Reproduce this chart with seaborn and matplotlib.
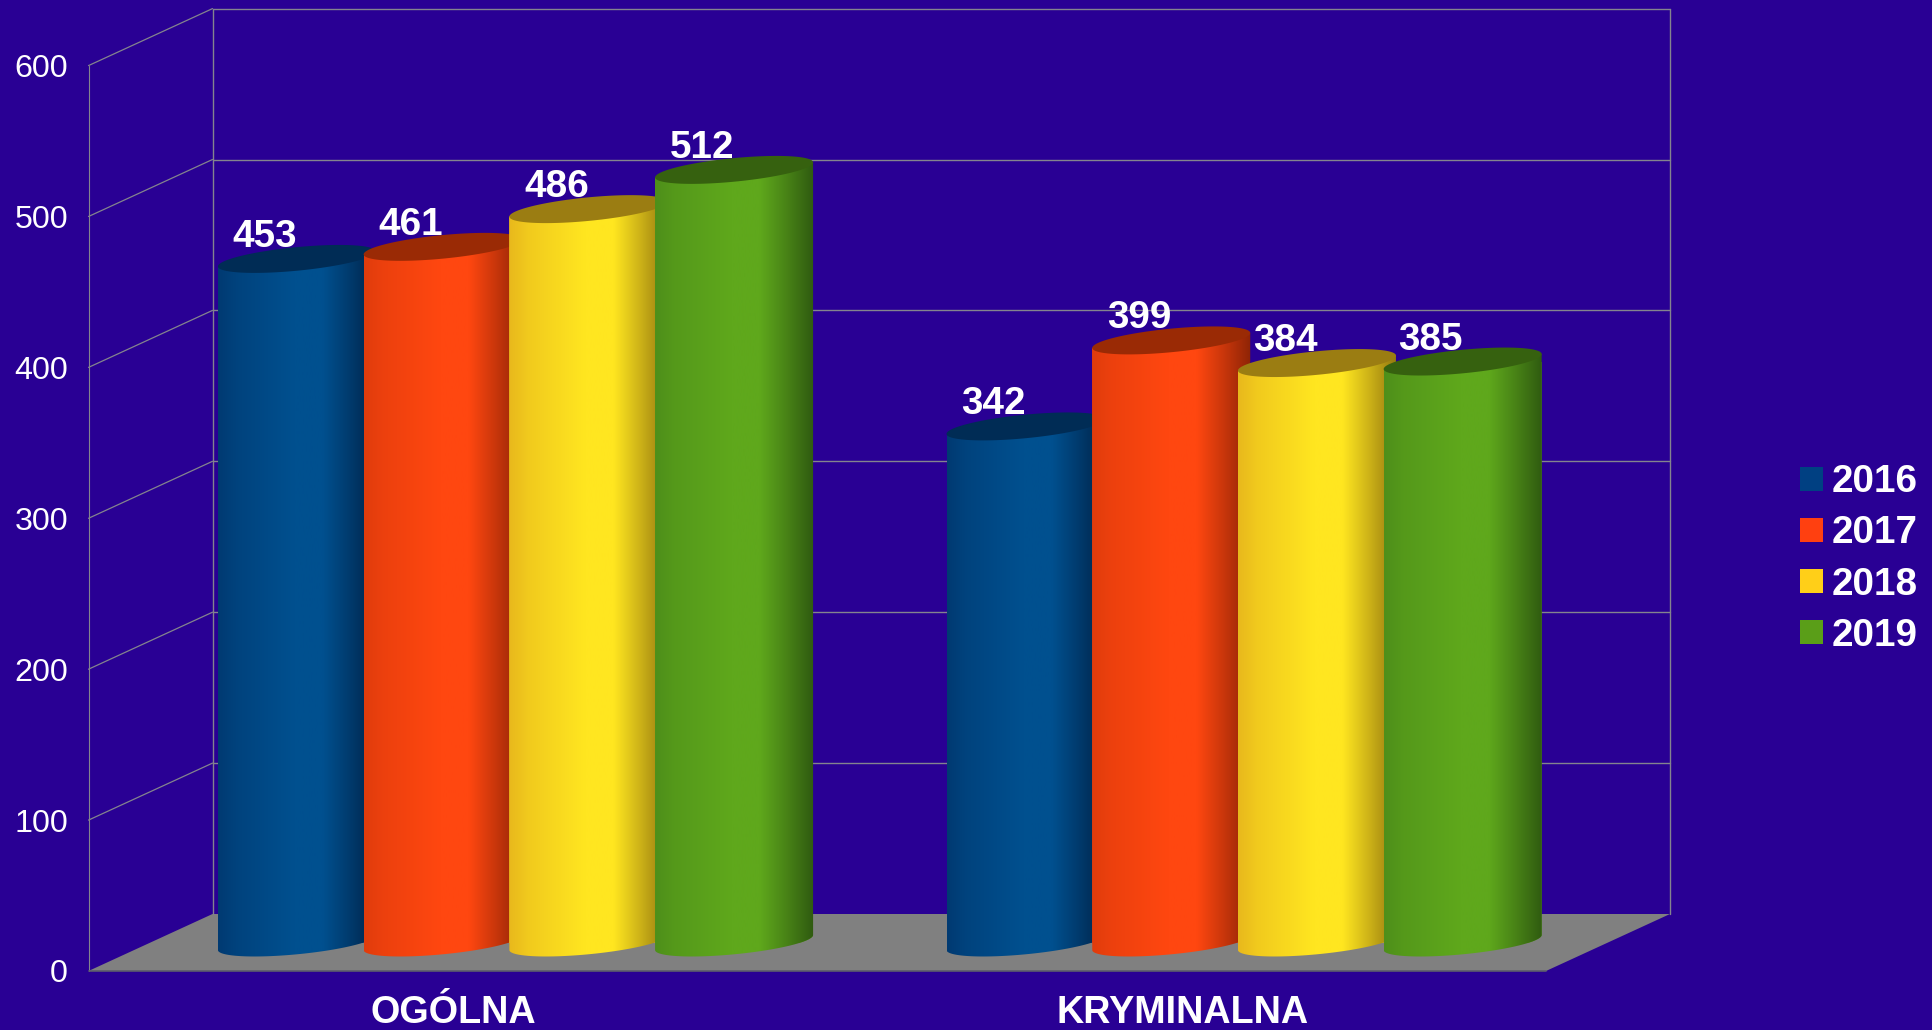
import numpy as np
import pandas as pd
import matplotlib
matplotlib.use("Agg")
import matplotlib.pyplot as plt
from matplotlib.path import Path
from matplotlib.colors import to_rgb
import seaborn as sns

categories = ["OGÓLNA", "KRYMINALNA"]
years = ["2016", "2017", "2018", "2019"]
values_2016 = [453, 342]
values_2017 = [461, 399]
values_2018 = [486, 384]
values_2019 = [512, 385]
y_ticks = [0, 100, 200, 300, 400, 500, 600]

BG = "#290094"
GRID = "#84848e"
FLOOR = "#808080"
legend_colors = ["#004082", "#FF4010", "#FFCF18", "#5A9E18"]
left_colors = ["#003A72", "#E03C0C", "#E8B81C", "#4E8F1A"]
mid_colors = ["#00508F", "#FF4710", "#FFE620", "#5FA81C"]
right_colors = ["#002348", "#8E2406", "#94780F", "#2F5A10"]
cap_colors = ["#002C55", "#9A2A05", "#9B7D12", "#36610F"]

W, H = 1933, 1030
PX_X0, PX_PER_CAT = 515.5, 728.6      # pixel position of category 0, pixels per category
PX_Y0, PX_PER_VAL = 942.5, 1.509      # pixel position of value 0, pixels per unit
DEPTH_X = 62.0 / PX_PER_CAT           # half depth of the pseudo-3D box in data units
DEPTH_Y = 28.5 / PX_PER_VAL
PLANE_LEFT = (150.5 - PX_X0) / PX_PER_CAT
PLANE_RIGHT = (1608.0 - PX_X0) / PX_PER_CAT
SHEAR = 7.5 / PX_PER_VAL              # tilt of the ellipses
MINOR = 11.8 / PX_PER_VAL

sns.set_theme(style="white", rc={"figure.facecolor": BG, "axes.facecolor": BG,
                                 "savefig.facecolor": BG})
plt.rcParams["font.family"] = ["Liberation Sans", "DejaVu Sans"]

df = pd.DataFrame({
    "kategoria": np.tile(categories, len(years)),
    "rok": np.repeat(years, len(categories)),
    "liczba": values_2016 + values_2017 + values_2018 + values_2019,
})

fig = plt.figure(figsize=(W / 100, H / 100), dpi=100)
ax = fig.add_axes([0, 0, 1, 1])

sns.barplot(data=df, x="kategoria", y="liczba", hue="rok", order=categories,
            hue_order=years, palette=legend_colors, saturation=1, width=0.8,
            gap=-0.0843, errorbar=None, ax=ax, zorder=3, linewidth=0)

xlim = (-PX_X0 / PX_PER_CAT, (W - PX_X0) / PX_PER_CAT)
ylim = ((PX_Y0 - H) / PX_PER_VAL, PX_Y0 / PX_PER_VAL)

# pseudo-3D box
fx0, fx1 = PLANE_LEFT - DEPTH_X, PLANE_RIGHT - DEPTH_X
bx0, bx1 = PLANE_LEFT + DEPTH_X, PLANE_RIGHT + DEPTH_X
ax.fill([fx0, fx1, bx1, bx0], [-DEPTH_Y, -DEPTH_Y, DEPTH_Y, DEPTH_Y],
        color=FLOOR, lw=0, zorder=1)
ax.plot([fx0, fx1], [-DEPTH_Y, -DEPTH_Y], color="#5c5c6c", lw=1.2, zorder=1.2)
for v in y_ticks:
    if v > 0:
        ax.plot([bx0, bx1], [v + DEPTH_Y, v + DEPTH_Y], color=GRID, lw=1.0, zorder=1.1)
        ax.plot([fx0, bx0], [v - DEPTH_Y, v + DEPTH_Y], color=GRID, lw=0.9, zorder=1.1)
top = y_ticks[-1]
ax.plot([fx0, fx0], [-DEPTH_Y, top - DEPTH_Y], color=GRID, lw=0.8, zorder=1.1)
ax.plot([bx0, bx0], [DEPTH_Y, top + DEPTH_Y], color=GRID, lw=1.0, zorder=1.1)
ax.plot([bx1, bx1], [DEPTH_Y, top + DEPTH_Y], color=GRID, lw=1.0, zorder=1.1)

t = np.linspace(0, 1, 256)
theta = np.linspace(0, 2 * np.pi, 181)


def gradient(i):
    lc, mc, rc = map(np.array, (to_rgb(left_colors[i]), to_rgb(mid_colors[i]),
                                to_rgb(right_colors[i])))
    wl = np.interp(t, [0, 0.12, 0.48], [1, 0.6, 0])[:, None]
    wr = np.interp(t, [0.66, 0.82, 1], [0, 0.45, 1])[:, None]
    return (lc * wl + mc * (1 - wl)) * (1 - wr) + rc * wr


for i, container in enumerate(ax.containers):
    z = 3 + i
    for bar in container:
        x, w, v = bar.get_x(), bar.get_width(), bar.get_height()
        cx, r = x + w / 2, w / 2
        # cylinder outline: top-left tip, down the left side, front of the base, up the right
        a = np.linspace(np.pi, 2 * np.pi, 90)
        bx = cx + r * np.cos(a)
        by = SHEAR * np.cos(a) + MINOR * np.sin(a)
        px = np.r_[x, bx, x + w, x]
        py = np.r_[v - SHEAR, by, v + SHEAR, v - SHEAR]
        outline = Path(np.c_[px, py])
        bar.set_clip_path(outline, ax.transData)
        bar.set_zorder(z)
        im = ax.imshow(gradient(i)[None, :, :], extent=(x, x + w, -30, v + 20),
                       aspect="auto", interpolation="bilinear", zorder=z, origin="lower")
        im.set_clip_path(outline, ax.transData)
        ax.fill(cx + r * np.cos(theta),
                v + SHEAR * np.cos(theta) + MINOR * np.sin(theta),
                color=cap_colors[i], lw=0, zorder=z + 0.1)
        ax.annotate(f"{int(v)}", (cx, v), xytext=(-32, 12), textcoords="offset pixels",
                    ha="center", va="baseline", color="white", fontsize=27.8,
                    fontweight="bold", zorder=20)

ax.set_xlim(xlim)
ax.set_ylim(ylim)
ax.set_xlabel("")
ax.set_ylabel("")
ax.tick_params(length=0, labelleft=False, labelbottom=False)
ax.grid(False)
sns.despine(ax=ax, left=True, bottom=True)

sy = ax.secondary_yaxis(68 / W, functions=(lambda y: y + DEPTH_Y, lambda y: y - DEPTH_Y))
sy.set_yticks(y_ticks, labels=[str(v) for v in y_ticks])
sy.tick_params(length=0, pad=0, labelsize=23.2, labelcolor="white")
sy.spines["left"].set_visible(False)

sx = ax.secondary_xaxis(1 - 995 / H, functions=(lambda x: x + DEPTH_X, lambda x: x - DEPTH_X))
sx.set_xticks(range(len(categories)), labels=categories)
sx.tick_params(length=0, pad=0, labelsize=27.2, labelcolor="white")
for lab in sx.get_xticklabels():
    lab.set_fontweight("bold")
sx.spines["bottom"].set_visible(False)

sns.move_legend(ax, loc="center left", bbox_to_anchor=(1800 / W, 1 - 559 / H),
                title=None, frameon=False, fontsize=27.8, labelcolor="white",
                handlelength=0.59, handleheight=0.59, handletextpad=0.24,
                labelspacing=0.39, borderpad=0, borderaxespad=0)
for text in ax.get_legend().get_texts():
    text.set_fontweight("bold")
for handle in ax.get_legend().get_patches():
    handle.set_linewidth(0)

fig.savefig("out.png", dpi=100, facecolor=BG)
